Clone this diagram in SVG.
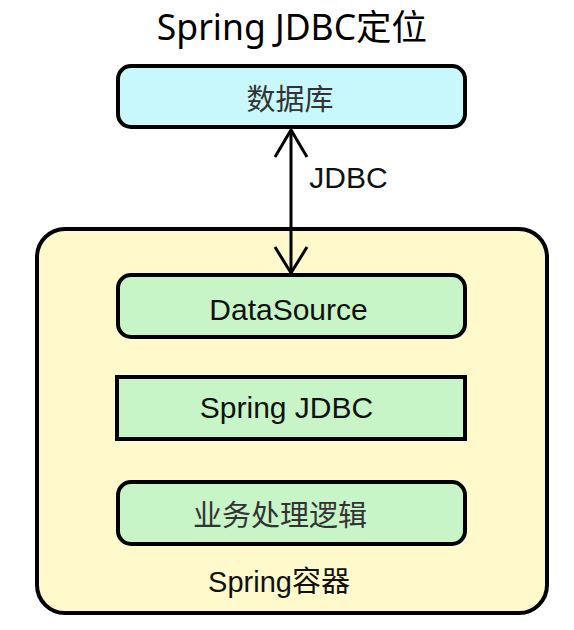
<svg xmlns="http://www.w3.org/2000/svg" width="574" height="630" viewBox="0 0 574 630">
<style>
.box{stroke:#000;stroke-width:4}
.green{fill:#c8f5c8}
.t{font-family:"Liberation Sans","Noto Sans CJK SC",sans-serif;font-size:29px;fill:#111;text-anchor:middle}
.big{font-size:30px}
.cjk{fill:#333}
.title{font-family:"Noto Sans","Noto Sans CJK SC",sans-serif;font-size:35.5px;fill:#000;text-anchor:middle}
.conn{stroke:#000;stroke-width:3;fill:none}
</style>
<rect width="574" height="630" fill="#fff"/>
<text class="title" x="292" y="40">Spring JDBC定位</text>
<g id="container">
<rect class="box" x="37" y="229" width="510" height="384" rx="28" fill="#fff9cc" stroke-width="3.5"/>
<text class="t" x="279" y="592">Spring容器</text>
</g>
<g id="db">
<rect class="box" x="118" y="66" width="347" height="61" rx="13" fill="#c8f8fc"/>
<text class="t cjk" x="290" y="110">数据库</text>
</g>
<g id="datasource">
<rect class="box green" x="118" y="275" width="347" height="62" rx="13"/>
<text class="t big" x="288.5" y="320">DataSource</text>
</g>
<g id="springjdbc">
<rect class="box green" x="117" y="377" width="348" height="62" stroke-width="5"/>
<text class="t big" x="286.5" y="418">Spring JDBC</text>
</g>
<g id="biz">
<rect class="box green" x="118" y="482" width="347" height="62" rx="13"/>
<text class="t cjk" x="280" y="526">业务处理逻辑</text>
</g>
<g id="connectors">
<line class="conn" x1="291" y1="130" x2="291" y2="273"/>
<polyline class="conn" points="275,157 291,130 307,157"/>
<polyline class="conn" points="275,247 291,273 307,247"/>
<text class="t big" x="348.5" y="188">JDBC</text>
</g>
</svg>
